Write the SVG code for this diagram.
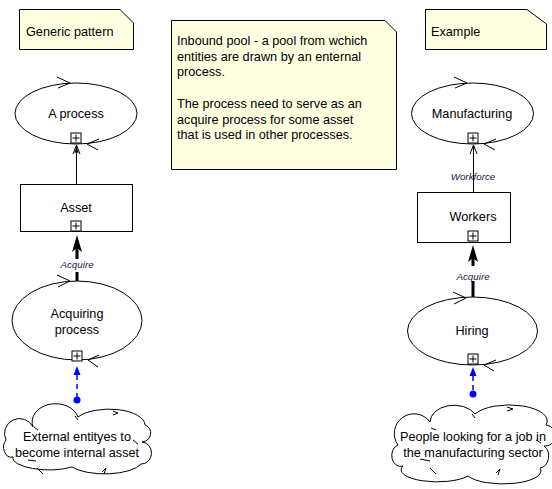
<svg xmlns="http://www.w3.org/2000/svg" width="552" height="489" viewBox="0 0 552 489">
<style>
text{font-family:"Liberation Sans",Arial,sans-serif;font-size:12.7px;fill:#000}
.note{fill:#ffffe1;stroke:#000;stroke-width:1}
.shape{fill:#fff;stroke:#000;stroke-width:1}
.thin{fill:none;stroke:#000;stroke-width:1}
.lbl{font-size:9.8px;font-style:italic;fill:#1a1a40}
.mid{text-anchor:middle}
.thick{stroke:#000;stroke-width:3;fill:none}
.dash{stroke:#0000ff;stroke-width:1.5;stroke-dasharray:5,4;fill:none}
</style>
<defs>
<g id="plus"><rect x="-5" y="-5" width="10" height="10" fill="#fff" stroke="#000"/><path d="M-3.5,0H3.5M0,-3.5V3.5" stroke="#000"/></g>
</defs>

<g id="note-generic">
<path class="note" d="M19.5,9.5H120L133.5,23V49.5H19.5Z"/>
<text x="26" y="36">Generic pattern</text>
</g>

<g id="note-desc">
<path class="note" d="M171.5,20.5H385L396.5,32V169.5H171.5Z"/>
<text x="177" y="45">Inbound pool - a pool from wchich</text>
<text x="177" y="60.5">entities are drawn by an enternal</text>
<text x="177" y="76">process.</text>
<text x="177" y="108">The process need to serve as an</text>
<text x="177" y="123.5">acquire process for some asset</text>
<text x="177" y="139">that is used in other processes.</text>
</g>

<g id="note-example">
<path class="note" d="M425.5,9.5H527L546.5,24V49.5H425.5Z"/>
<text x="431" y="36">Example</text>
</g>

<g id="a-process">
<ellipse class="shape" cx="76" cy="113.5" rx="61" ry="30.5"/>
<path class="thin" d="M57,77L70,83L58,88M99,139L87,144L98,150"/>
<text class="mid" x="76" y="118">A process</text>
<use href="#plus" x="76" y="138"/>
</g>

<g id="asset">
<rect class="shape" x="20.5" y="184.5" width="112" height="47"/>
<text class="mid" x="76" y="212">Asset</text>
<use href="#plus" x="76" y="226"/>
</g>

<g id="acquiring-process">
<ellipse class="shape" cx="77" cy="320.5" rx="65" ry="39.5"/>
<path class="thin" d="M57,275L70,281L58,287M99,355L88,360L98,367"/>
<text class="mid" x="77" y="318">Acquiring</text>
<text class="mid" x="77" y="334">process</text>
<use href="#plus" x="77" y="356"/>
</g>

<g id="cloud-left">
<path class="shape" d="M33,427A23,18 0 0 1 78,417A36,16 0 0 1 145,425A10,9 0 0 1 142,442A10,11 0 0 1 141,464A38,14 0 0 1 72,467A36,12 0 0 1 13,457A8,10 0 0 1 6,440A10,10 0 0 1 33,427Z"/>
<path class="thin" d="M113,411L118,413L113,415M34,427L38,430M133,440L138,444M28,460L36,461M37,468L43,474M102,472L106,468L104,474M75,416L78,420"/>
<text class="mid" x="77" y="441">External entityes to</text>
<text class="mid" x="77" y="457">become internal asset</text>
</g>

<g id="manufacturing">
<ellipse class="shape" cx="472.5" cy="113.5" rx="61" ry="30.5"/>
<path class="thin" d="M454,77L467,83L455,88M496,139L484,144L495,150"/>
<text class="mid" x="472" y="118">Manufacturing</text>
<use href="#plus" x="473" y="138"/>
</g>

<g id="workers">
<rect class="shape" x="417.5" y="192.5" width="93" height="50"/>
<text class="mid" x="473" y="221">Workers</text>
<use href="#plus" x="473" y="236"/>
</g>

<g id="hiring">
<ellipse class="shape" cx="472.5" cy="331" rx="65" ry="34"/>
<path class="thin" d="M453,292L466,298L454,304M496,360L484,365L494,371"/>
<text class="mid" x="472" y="335">Hiring</text>
<use href="#plus" x="473" y="359"/>
</g>

<g id="cloud-right">
<path class="shape" d="M430,422A24,17 0 0 1 475,414A38,16 0 0 1 546,425A10,10 0 0 1 544,446A10,12 0 0 1 540,468A38,13 0 0 1 468,476A36,12 0 0 1 403,466A8,10 0 0 1 398,445A12,12 0 0 1 430,422Z"/>
<path class="thin" d="M507,407L513,409L507,411M431,428L436,430M536,440L541,443M420,459L430,461M430,468L436,474M496,473L500,469L498,475M472,414L475,418"/>
<text class="mid" x="473" y="441">People looking for a job in</text>
<text class="mid" x="473" y="457">the manufacturing sector</text>
</g>

<g id="connectors">
<path class="thin" d="M76.5,184V146M73,154L76.5,145L80,154M75,153L76.5,147L78,153"/>
<path class="thick" d="M77,246V259M77,272V281"/>
<path d="M77,235L82,252L77,248L72,252Z" fill="#000"/>
<text class="lbl mid" x="77" y="268">Acquire</text>
<path class="dash" d="M77,375V400"/>
<path d="M77,366L80.5,375L73.5,375Z" fill="#0000ff"/>
<circle cx="77" cy="400" r="3.5" fill="#0000ff"/>

<path class="thin" d="M473.5,192V146M470,154L473.5,145L477,154"/>
<text class="lbl mid" x="473" y="180">Workforce</text>
<path class="thick" d="M473,256V266M473,281V297"/>
<path d="M473,245L478,262L473,258L468,262Z" fill="#000"/>
<text class="lbl mid" x="473" y="280">Acquire</text>
<path class="dash" d="M473,376V394"/>
<path d="M473,367L476.5,376L469.5,376Z" fill="#0000ff"/>
<circle cx="473" cy="394" r="3.5" fill="#0000ff"/>
</g>
</svg>
